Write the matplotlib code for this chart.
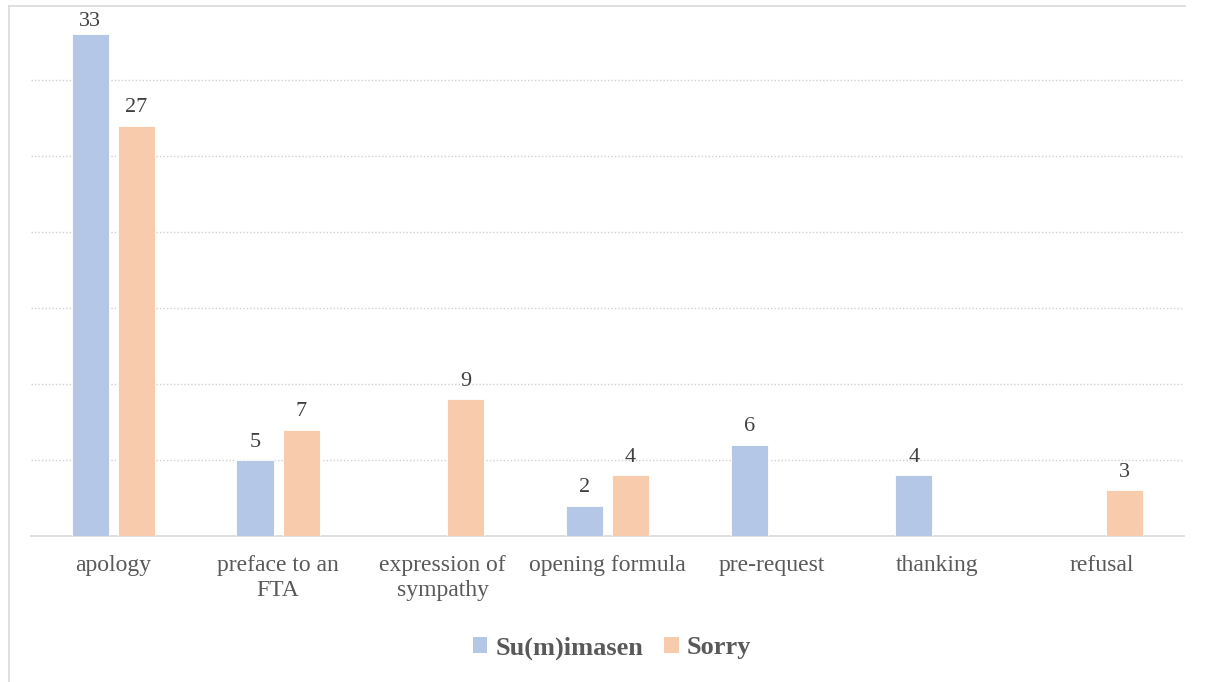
import matplotlib
matplotlib.use("Agg")
import matplotlib.pyplot as plt
from matplotlib.lines import Line2D
from matplotlib.patches import Patch
import numpy as np

categories = ["apology", "preface to an\nFTA", "expression of\nsympathy", "opening formula",
              "pre-request", "thanking", "refusal"]
su_values = [33, 5, 0, 2, 6, 4, 0]
sorry_values = [27, 7, 9, 4, 0, 0, 3]
series_names = ["Su(m)imasen", "Sorry"]

plt.rcParams['font.family'] = ['Liberation Serif', 'DejaVu Serif']

W, H = 1208, 682
fig = plt.figure(figsize=(W / 100, H / 100), dpi=100)
ax = fig.add_axes([31 / W, (H - 536) / H, (1184 - 31) / W, (536 - 4) / H])

x = np.arange(len(categories))
bw = 0.225
off = 0.14
c_blue = "#B4C7E7"
c_orange = "#F8CBAD"
ymax = 35
ax.bar(x - off, su_values, bw, color=c_blue, edgecolor="white", linewidth=0.6, zorder=3)
ax.bar(x + off, sorry_values, bw, color=c_orange, edgecolor="white", linewidth=0.6, zorder=3)


def label(xpos, v):
    # keep labels inside the chart area like the original (clamped near the top)
    dy = 6 if v <= ymax - 3 else 2.5
    ax.annotate(str(v), (xpos, v), xytext=(0, dy), textcoords="offset points",
                ha="center", va="bottom", fontsize=16, color="#404040")


for xi, v in zip(x, su_values):
    if v:
        label(xi - off, v)
for xi, v in zip(x, sorry_values):
    if v:
        label(xi + off, v)

ax.set_xlim(-0.5, len(categories) - 0.5)
ax.set_ylim(0, ymax)
ax.set_yticks(np.arange(5, 31, 5))
ax.yaxis.grid(True, linestyle=(0, (1, 1.5)), color="#D0D0D0", linewidth=1, zorder=0)
ax.tick_params(axis="y", left=False, labelleft=False)
ax.set_xticks(x)
ax.set_xticklabels(categories, fontsize=17, color="#595959", linespacing=1.2)
ax.tick_params(axis="x", length=0, pad=14)
for s in ["top", "right", "left"]:
    ax.spines[s].set_visible(False)
ax.spines["bottom"].set_color("#D9D9D9")
ax.spines["bottom"].set_linewidth(1.2)

# chart border (left and top)
fig.add_artist(Line2D([9 / W, 9 / W], [0, (H - 6) / H], color="#D9D9D9", linewidth=1.2))
fig.add_artist(Line2D([9 / W, 1185 / W], [(H - 6) / H, (H - 6) / H], color="#D9D9D9", linewidth=1.2))

handles = [Patch(facecolor=c_blue, edgecolor="none"), Patch(facecolor=c_orange, edgecolor="none")]
leg = fig.legend(handles, series_names, loc="center", bbox_to_anchor=(612 / W, (H - 648) / H),
                 ncol=2, frameon=False, handlelength=0.55, handleheight=0.55, handletextpad=0.3,
                 columnspacing=0.8, prop={"size": 19, "weight": "bold"})
for t in leg.get_texts():
    t.set_color("#595959")

fig.savefig("out.png", dpi=100)
